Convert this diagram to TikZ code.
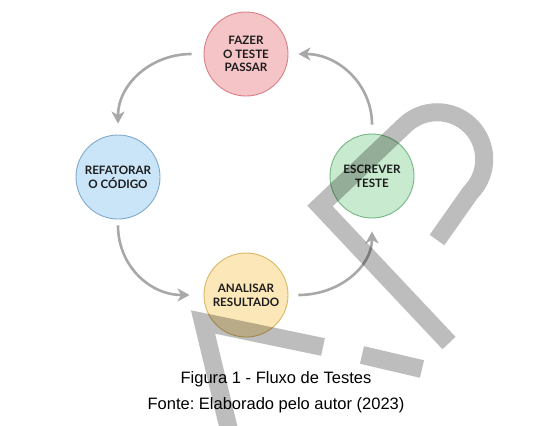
\documentclass[tikz,border=0pt]{standalone}
\usepackage{fontspec}
\setmainfont{Liberation Sans}
\newfontfamily\stagefont{Lato}
\usetikzlibrary{arrows.meta}
\definecolor{arrowgray}{HTML}{A8A8A8}
\definecolor{redfill}{HTML}{F5C4C7}
\definecolor{reddraw}{HTML}{D98088}
\definecolor{bluefill}{HTML}{CBE5F8}
\definecolor{bluedraw}{HTML}{7FA9CC}
\definecolor{greenfill}{HTML}{C8EACF}
\definecolor{greendraw}{HTML}{74B883}
\definecolor{yellowfill}{HTML}{FBE7B8}
\definecolor{yellowdraw}{HTML}{D8B865}
\definecolor{txt}{HTML}{1C1C1C}
\frenchspacing
\tikzset{
  stage/.style={circle, minimum size=84pt, inner sep=0pt, line width=0.9pt,
    align=center, text=txt, font=\stagefont\bfseries\fontsize{11.6}{13.8}\selectfont},
  flow/.style={draw=arrowgray, line width=2.6pt,
    -{Stealth[length=12pt,width=13pt,inset=3.5pt]}},
  wm/.style={draw=black, draw opacity=0.26, line width=18pt},
  caption/.style={font=\fontsize{16.5}{19}\selectfont, text=black, inner sep=0pt}
}
\begin{document}
\begin{tikzpicture}[x=1pt,y=-1pt]
\useasboundingbox (0,0) rectangle (536,426);
\fill[white] (0,0) rectangle (536,426);

\node[stage, fill=redfill, draw=reddraw] (fazer) at (246,54) {FAZER\\O TESTE\\PASSAR};
\node[stage, fill=bluefill, draw=bluedraw] (refat) at (118,177) {REFATORAR\\O CÓDIGO};
\node[stage, fill=greenfill, draw=greendraw] (escr) at (372,176) {ESCREVER\\TESTE};
\node[stage, fill=yellowfill, draw=yellowdraw] (anal) at (246,295) {ANALISAR\\RESULTADO};

\draw[flow] ([xshift=-12pt]fazer.west) .. controls +(-41,0) and +(0,-39) .. ([yshift=11pt]refat.north);
\draw[flow] ([yshift=-6pt]refat.south) .. controls +(0,40) and +(-40,0) .. ([xshift=-14pt]anal.west);
\draw[flow] ([xshift=10pt]anal.east) .. controls +(41,0) and +(0,35) .. ([yshift=-13pt]escr.south);
\draw[flow] ([yshift=9pt]escr.north) .. controls +(0,-40) and +(40,0) .. ([xshift=10pt]fazer.east);

\node[caption, anchor=base] (cap1) at (276,383) {Figura 1 - Fluxo de Testes};
\node[caption, anchor=base] (cap2) at (276,409) {Fonte: Elaborado pelo autor (2023)};

% watermark
\draw[wm] (230,434) -- (203,322) -- (323,347);
\draw[wm] (362,355) -- (422,369);
\draw[wm] (449,343) -- (320,206) -- (404,126) arc[start angle=-135, end angle=45, radius=47] -- (437,240);
\end{tikzpicture}
\end{document}
